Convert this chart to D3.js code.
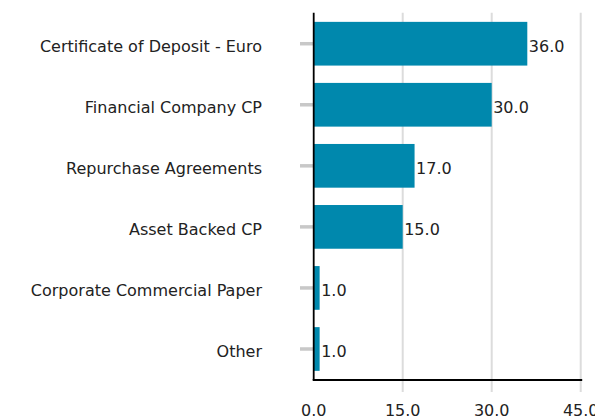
<!DOCTYPE html>
<html>
<head>
<meta charset="utf-8">
<script src="https://cdn.jsdelivr.net/npm/d3@7"></script>
<style>
  html, body { margin: 0; padding: 0; background: #fff; }
  svg { display: block; font-family: "DejaVu Sans", Verdana, sans-serif; }
</style>
</head>
<body>
<svg id="chart" width="595" height="417"></svg>
<script>
// Portfolio composition by security type (%)
const categories = [
  "Certificate of Deposit - Euro",
  "Financial Company CP",
  "Repurchase Agreements",
  "Asset Backed CP",
  "Corporate Commercial Paper",
  "Other"
];
const values = [36.0, 30.0, 17.0, 15.0, 1.0, 1.0];
const xTicks = [0, 15, 30, 45];

const svg = d3.select("#chart");
const x0 = 313.7, x1 = 580.7, yTop = 12.7, yBottom = 380;
const fs = 16;

const x = d3.scaleLinear().domain([0, 45]).range([x0, x1]);
const y = d3.scaleBand().domain(categories).range([yTop, yBottom])
  .paddingInner(0.284).paddingOuter(0.15);
const mid = d => y(d) + y.bandwidth() / 2;

// vertical grid lines
svg.append("g").selectAll("line").data(xTicks.filter(d => d > 0)).join("line")
  .attr("x1", d => x(d)).attr("x2", d => x(d))
  .attr("y1", yTop).attr("y2", 392)
  .attr("stroke", "#dcdcdc").attr("stroke-width", 2);

// bottom axis tick labels
svg.append("g").selectAll("text").data(xTicks).join("text")
  .attr("x", d => x(d)).attr("y", 416)
  .attr("text-anchor", "middle")
  .attr("font-size", fs).attr("fill", "#222")
  .text(d => d3.format(".1f")(d));

// category tick marks
svg.append("g").selectAll("line").data(categories).join("line")
  .attr("x1", 300).attr("x2", x0)
  .attr("y1", mid).attr("y2", mid)
  .attr("stroke", "#c8c8c8").attr("stroke-width", 3.5);

// category labels
svg.append("g").selectAll("text").data(categories).join("text")
  .attr("x", 262)
  .attr("y", mid)
  .attr("dy", "0.52em")
  .attr("text-anchor", "end")
  .attr("font-size", fs).attr("fill", "#222")
  .text(d => d);

// bars
svg.append("g").selectAll("rect").data(values).join("rect")
  .attr("x", x(0))
  .attr("y", (d, i) => y(categories[i]))
  .attr("width", d => x(d) - x(0))
  .attr("height", y.bandwidth())
  .attr("fill", "#0088ad");

// value labels
svg.append("g").selectAll("text").data(values).join("text")
  .attr("x", d => x(d) + 1.5)
  .attr("y", (d, i) => mid(categories[i]))
  .attr("dy", "0.52em")
  .attr("font-size", fs).attr("fill", "#222")
  .text(d => d3.format(".1f")(d));

// axis lines
svg.append("line")
  .attr("x1", x0).attr("x2", x0).attr("y1", yTop).attr("y2", yBottom)
  .attr("stroke", "#000").attr("stroke-width", 1.8);
svg.append("line")
  .attr("x1", x0 - 1).attr("x2", x1 + 1.5).attr("y1", yBottom).attr("y2", yBottom)
  .attr("stroke", "#000").attr("stroke-width", 1.8);
</script>
</body>
</html>
